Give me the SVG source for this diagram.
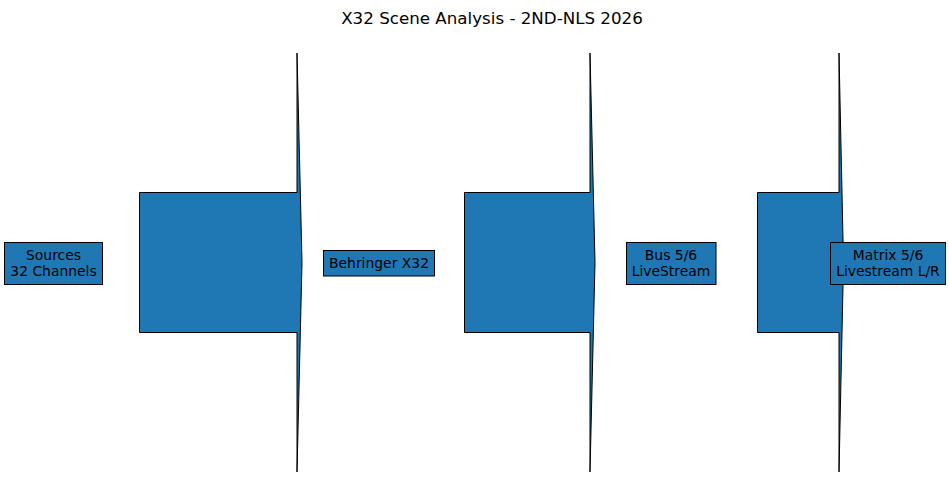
<svg xmlns="http://www.w3.org/2000/svg" width="949" height="504" viewBox="0 0 949 504">
<style>
.arrow{fill:#1f77b4;stroke:#000;stroke-width:1;stroke-linejoin:miter}
.box{fill:#1f77b4;stroke:#000;stroke-width:1}
.lbl{font-family:"DejaVu Sans",sans-serif;font-size:13.9px;fill:#000;text-anchor:middle}
.title{font-family:"DejaVu Sans",sans-serif;font-size:16.7px;fill:#000;text-anchor:middle}
</style>
<rect width="949" height="504" fill="#fff"/>
<text class="title" x="492" y="24">X32 Scene Analysis - 2ND-NLS 2026</text>
<g id="connectors">
<path class="arrow" d="M139.5,192.5 H297 V53 L302,262.5 L297,472 V332.5 H139.5 Z"/>
<path class="arrow" d="M464.5,192.5 H590 V53 L595,262.5 L590,472 V332.5 H464.5 Z"/>
<path class="arrow" d="M757.5,192.5 H839 V53 L843.5,262.5 L839,472 V332.5 H757.5 Z"/>
</g>
<g id="sources">
<rect class="box" x="4.5" y="242.5" width="98" height="42"/>
<text class="lbl" x="53.5" y="259.5">Sources</text>
<text class="lbl" x="53.5" y="275.5">32 Channels</text>
</g>
<g id="x32">
<rect class="box" x="323.5" y="250.5" width="111" height="25.5"/>
<text class="lbl" x="379" y="267.5">Behringer X32</text>
</g>
<g id="bus">
<rect class="box" x="626.5" y="242.5" width="89.5" height="42"/>
<text class="lbl" x="671" y="259.5">Bus 5/6</text>
<text class="lbl" x="671" y="275.5">LiveStream</text>
</g>
<g id="matrix">
<rect class="box" x="830.5" y="242.5" width="115" height="42"/>
<text class="lbl" x="888" y="259.5">Matrix 5/6</text>
<text class="lbl" x="888" y="275.5">Livestream L/R</text>
</g>
</svg>
